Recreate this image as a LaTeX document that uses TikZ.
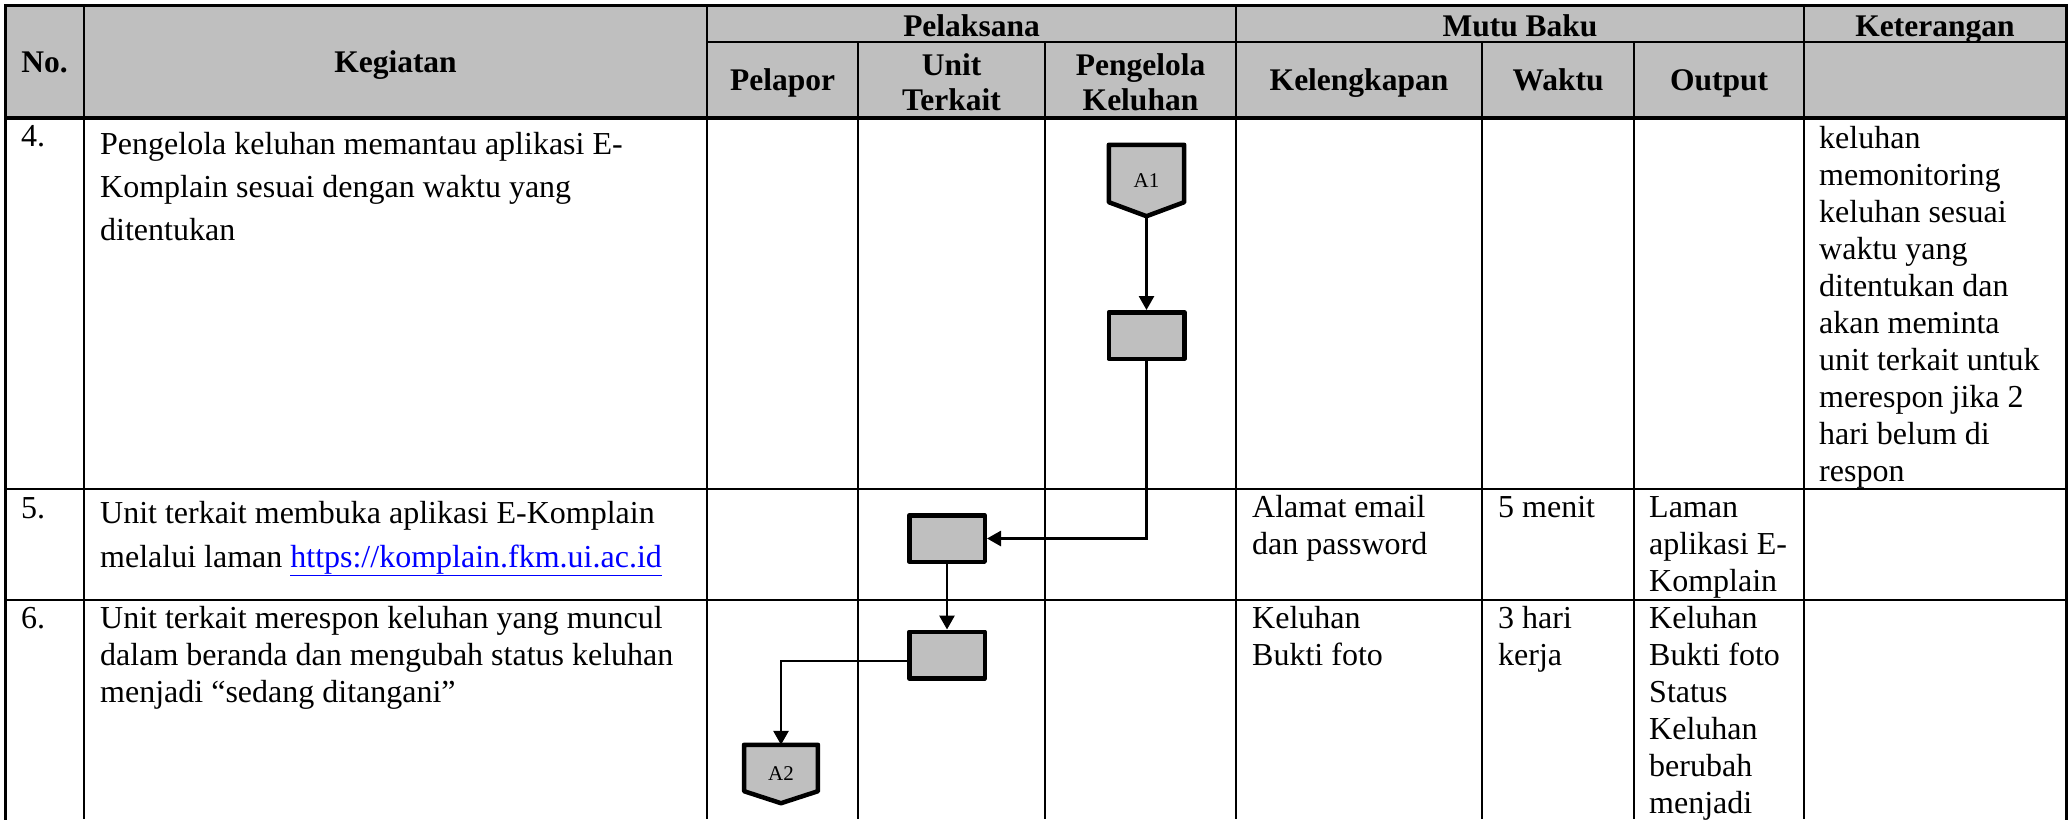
\documentclass[tikz,border=0pt]{standalone}
\usepackage{fontspec}
\setmainfont{Liberation Serif}
\usetikzlibrary{arrows.meta,backgrounds}
\definecolor{hdr}{RGB}{191,191,191}
\definecolor{linkblue}{RGB}{0,0,255}
% lines stacked with the baseline of the first one as the box baseline
\newcommand{\cellstack}[2][l]{\begin{tabular}[t]{@{}#1@{}}#2\end{tabular}}

\begin{document}
\begin{tikzpicture}[x=1pt,y=-1pt,
  frameline/.style={line width=3pt, line cap=rect},
  gridline/.style={line width=2.3pt},
  body/.style={font=\fontsize{32}{37}\selectfont, anchor=base west, inner sep=0pt},
  head/.style={font=\bfseries\fontsize{31.5}{35}\selectfont, anchor=base, inner sep=0pt},
  proc/.style={draw, fill=hdr, line width=4.5pt, line join=round, minimum width=75.5pt, minimum height=46.5pt, inner sep=0pt},
  offpage/.style={inner sep=0pt, font=\fontsize{21}{21}\selectfont},
  offshape/.style={draw, fill=hdr, line width=4.5pt, line join=round},
  conn/.style={line width=2.8pt, -{Triangle[length=14pt,width=15pt]}}
]
\useasboundingbox (0,0) rectangle (2071,819);

% header band
\fill[hdr] (5,5) rectangle (2066,118);

% table rules
\draw[frameline] (5,819) -- (5,5) -- (2066,5) -- (2066,819);
\draw[line width=3.2pt] (5,118) -- (2066,118);
\draw[gridline] (707,42) -- (2066,42);
\draw[gridline] (5,489) -- (2066,489);
\draw[gridline] (5,600) -- (2066,600);
\foreach \cx in {84,707,1236,1804} \draw[gridline] (\cx,5) -- (\cx,819);
\foreach \cx in {858,1045,1482,1634} \draw[gridline] (\cx,42) -- (\cx,819);

% header texts
\node[head] (hno) at (44.5,72) {No.};
\node[head] (hkeg) at (395.5,72) {Kegiatan};
\node[head] (hpel) at (971.5,36) {Pelaksana};
\node[head] (hmutu) at (1520,36) {Mutu Baku};
\node[head] (hket) at (1935,36) {Keterangan};
\node[head] (hpelapor) at (782.5,90) {Pelapor};
\node[head] (hunit) at (951.5,75) {\cellstack[c]{Unit\\Terkait}};
\node[head] (hpk) at (1140.5,75) {\cellstack[c]{Pengelola\\Keluhan}};
\node[head] (hkel) at (1359,90) {Kelengkapan};
\node[head] (hwak) at (1558,90) {Waktu};
\node[head] (hout) at (1719,90) {Output};

% row 4
\node[body] (n4) at (21,146) {4.};
\node[body, font=\fontsize{32}{43}\selectfont] (k4) at (100,154)
  {\cellstack{Pengelola keluhan memantau aplikasi E-\\Komplain sesuai dengan waktu yang\\ditentukan}};
\node[body] (ket4) at (1819,148)
  {\cellstack{keluhan\\memonitoring\\keluhan sesuai\\waktu yang\\ditentukan dan\\akan meminta\\unit terkait untuk\\merespon jika 2\\hari belum di\\respon}};

% row 5
\node[body] (n5) at (21,518) {5.};
\node[body, font=\fontsize{32}{44}\selectfont] (k5) at (100,523)
  {\cellstack{Unit terkait membuka aplikasi E-Komplain\\melalui laman \textcolor{linkblue}{\underline{https://komplain.fkm.ui.ac.id}}}};
\node[body] (kel5) at (1252,517) {\cellstack{Alamat email\\dan password}};
\node[body] (wak5) at (1498,517) {5 menit};
\node[body] (out5) at (1649,517) {\cellstack{Laman\\aplikasi E-\\Komplain}};

% row 6
\node[body] (n6) at (21,628) {6.};
\node[body] (k6) at (100,628)
  {\cellstack{Unit terkait merespon keluhan yang muncul\\dalam beranda dan mengubah status keluhan\\menjadi “sedang ditangani”}};
\node[body] (kel6) at (1252,628) {\cellstack{Keluhan\\Bukti foto}};
\node[body] (wak6) at (1498,628) {\cellstack{3 hari\\kerja}};
\node[body] (out6) at (1649,628) {\cellstack{Keluhan\\Bukti foto\\Status\\Keluhan\\berubah\\menjadi}};

% flow symbols
\node[offpage, minimum width=75pt, minimum height=71pt] (a1) at (1146.5,180.5) {A1};
\node[proc] (b1) at (1146.5,335.5) {};
\node[proc] (b2) at (947,538.5) {};
\node[proc] (b3) at (947,655) {};
\node[offpage, minimum width=73.5pt, minimum height=58pt] (a2) at (781,774) {A2};

\begin{pgfonlayer}{background}
  \draw[offshape] (a1.north west) -- (a1.north east) -- ([yshift=14pt]a1.south east)
    -- (a1.south) -- ([yshift=14pt]a1.south west) -- cycle;
  \draw[offshape] (a2.north west) -- (a2.north east) -- ([yshift=12pt]a2.south east)
    -- (a2.south) -- ([yshift=12pt]a2.south west) -- cycle;
\end{pgfonlayer}

% connectors
\draw[conn] (a1.south) -- (b1.north);
\draw[conn] (b1.south) |- (b2.east);
\draw[conn] (b2.south) -- (b3.north);
\draw[conn] ([yshift=-6pt]b3.west) -| (a2.north);
\end{tikzpicture}
\end{document}
